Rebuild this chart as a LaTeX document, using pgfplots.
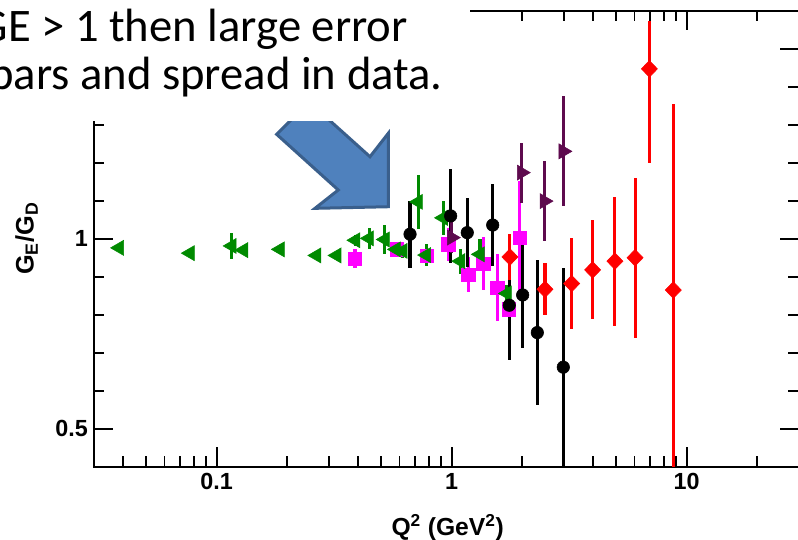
\documentclass[border=0pt]{standalone}
\usepackage{pgfplots}
\pgfplotsset{compat=1.18}
\usepackage{fontspec}
\setmainfont{Carlito}
\newfontfamily\helv{Liberation Sans}
\definecolor{grn}{HTML}{008A00}
\definecolor{mag}{HTML}{FF00FF}
\definecolor{pur}{HTML}{5E0A4E}
\definecolor{rd}{HTML}{FF0000}
\definecolor{arrowfill}{HTML}{4F81BD}
\definecolor{arrowline}{HTML}{3A5F8C}
\begin{document}
\begin{tikzpicture}[x=1pt,y=1pt]
\path[use as bounding box, clip] (0,0) rectangle (598.5,404.25);
\begin{axis}[
  at={(70.35pt,54.2pt)}, anchor=south west,
  scale only axis, width=528.75pt, height=342pt,
  xmode=log, xmin=0.03, xmax=30, ymin=0.4, ymax=1.6,
  axis line style={line width=1.5pt},
  tick style={line width=1.4pt, black},
  major tick length=14.5pt, minor tick length=8pt,
  tick align=inside,
  xtick={0.1,1,10}, xticklabels={0.1,1,10},
  minor xtick={0.04,0.05,0.06,0.07,0.08,0.09,0.2,0.3,0.4,0.5,0.6,0.7,0.8,0.9,2,3,4,5,6,7,8,9,20},
  ytick={0.5,1,1.5}, yticklabels={0.5,1,{}},
  minor ytick={0.4,0.6,0.7,0.8,0.9,1.1,1.2,1.3,1.4,1.6},
  ticklabel style={font=\helv\bfseries\fontsize{17.5}{20}\selectfont},
  xticklabel style={yshift=-1.5pt},
  yticklabel style={xshift=-1pt},
  xlabel={Q\textsuperscript{2} (GeV\textsuperscript{2})},
  xlabel style={at={(axis description cs:0.502,-0.150)}, anchor=base, font=\helv\bfseries\fontsize{18.5}{20}\selectfont},
  ylabel={G\textsubscript{E}/G\textsubscript{D}},
  ylabel style={at={(axis description cs:-0.0955,0.5)}, anchor=center, font=\helv\bfseries\fontsize{19}{21}\selectfont},
  error bars/y dir=both, error bars/y explicit, error bars/error mark=none,
]
% magenta squares
\addplot[only marks, mark=square*, mark size=5pt, color=mag,
  error bars/error bar style={line width=2.3pt, mag}]
  coordinates {
  (0.388,0.948) +- (0,0.026)
  (0.583,0.972) +- (0,0.015)
  (0.783,0.955) +- (0,0.02)
  (0.967,0.985) +- (0,0.044)
  (1.177,0.906) +- (0,0.046)
  (1.363,0.934) +- (0,0.07)
  (1.563,0.871) +- (0,0.088)
  (1.754,0.814) +- (0,0.02)
  (1.95,1.003) +- (0,0.15)
  };
% green left triangles
\addplot[only marks, mark=triangle*, mark size=6.5pt, mark options={rotate=90}, color=grn,
  error bars/error bar style={line width=2.3pt, grn}]
  coordinates {
  (0.0385,0.976) +- (0,0.004)
  (0.077,0.962) +- (0,0.004)
  (0.116,0.981) +- (0,0.034)
  (0.130,0.970) +- (0,0.010)
  (0.186,0.972) +- (0,0.005)
  (0.266,0.956) +- (0,0.008)
  (0.324,0.956) +- (0,0.008)
  (0.39,0.996) +- (0,0.015)
  (0.445,1.001) +- (0,0.028)
  (0.52,0.998) +- (0,0.038)
  (0.58,0.972) +- (0,0.015)
  (0.62,0.968) +- (0,0.02)
  (0.72,1.097) +- (0,0.072)
  (0.78,0.957) +- (0,0.03)
  (0.92,1.055) +- (0,0.044)
  (1.09,0.941) +- (0,0.033)
  (1.32,0.959) +- (0,0.041)
  (1.72,0.856) +- (0,0.022)
  };
% black circles
\addplot[only marks, mark=*, mark size=4.7pt, color=black,
  error bars/error bar style={line width=2.3pt, black}]
  coordinates {
  (0.665,1.012) +- (0,0.088)
  (0.99,1.060) +- (0,0.124)
  (1.165,1.016) +- (0,0.09)
  (1.495,1.036) +- (0,0.107)
  (1.758,0.825) +- (0,0.145)
  (2.005,0.852) +- (0,0.14)
  (2.314,0.753) +- (0,0.19)
  (2.985,0.662) +- (0,0.26)
  };
% purple right triangles
\addplot[only marks, mark=triangle*, mark size=6.5pt, mark options={rotate=-90}, color=pur,
  error bars/error bar style={line width=2.3pt, pur}]
  coordinates {
  (1.0,1.003) +- (0,0.04)
  (1.985,1.174) +- (0,0.079)
  (2.48,1.099) +- (0,0.105)
  (2.985,1.23) +- (0,0.145)
  };
% red diamonds
\addplot[only marks, mark=diamond*, mark size=6.2pt, mark options={xscale=1.3}, color=rd,
  error bars/error bar style={line width=2.3pt, rd}]
  coordinates {
  (1.77,0.952) +- (0,0.06)
  (2.495,0.867) +- (0,0.068)
  (3.24,0.882) +- (0,0.12)
  (3.98,0.918) +- (0,0.13)
  (4.95,0.941) +- (0,0.17)
  (6.03,0.95) +- (0,0.21)
  (6.94,1.447) += (0,0.126) -= (0,0.247)
  (8.77,0.865) +- (0,0.49)
  };
\end{axis}
% arrow
\draw[line width=2.25pt, draw=arrowline, fill=arrowfill, line join=miter]
  (231.8,327.8) -- (207.5,303.5) -- (253.7,261.75) -- (236.25,248.0)
  -- (291.2,249.2) -- (291.2,304.25) -- (277.5,286.7) -- cycle;
% white text box
\fill[white] (-5,313.5) rectangle (352.5,410);
\node[anchor=base east, inner sep=0, font=\fontsize{35}{40}\selectfont] at (306,372.75) {GE > 1 then large error};
\node[anchor=base east, inner sep=0, font=\fontsize{35}{40}\selectfont] at (332.25,337) {bars and spread in data.};
\end{tikzpicture}
\end{document}
